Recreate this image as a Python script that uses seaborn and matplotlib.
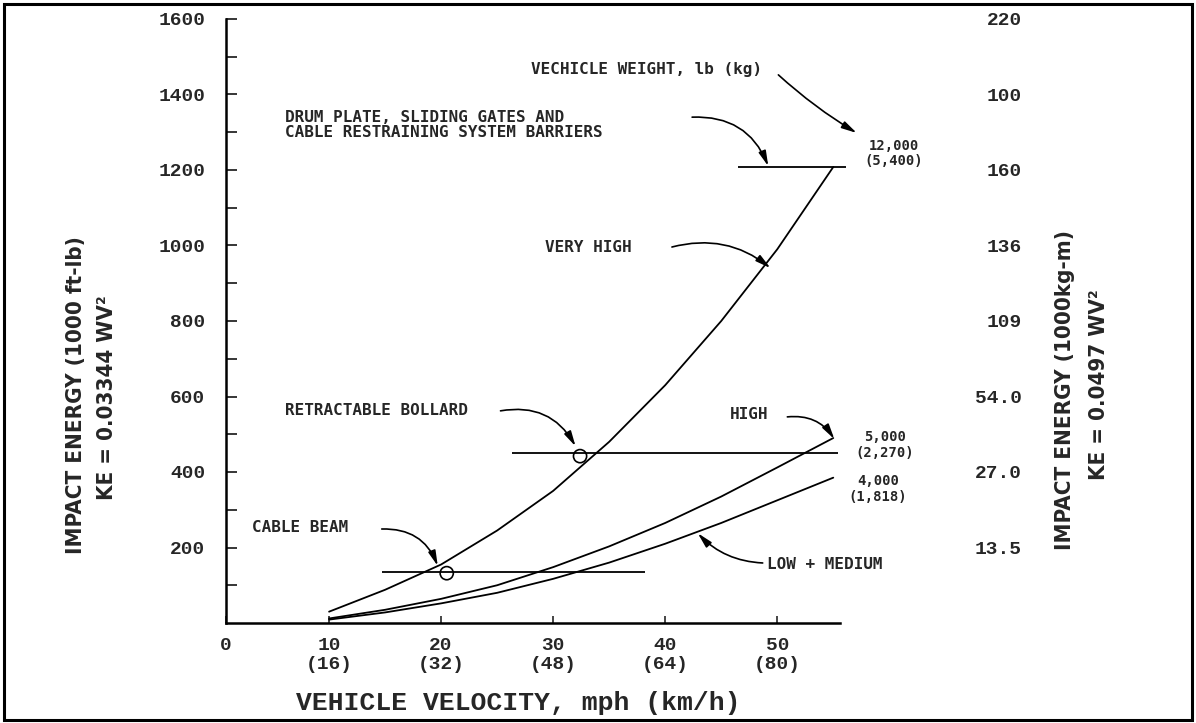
import matplotlib
matplotlib.use("Agg")
import matplotlib.pyplot as plt
from matplotlib import font_manager
from matplotlib.patches import Rectangle
import numpy as np
import pandas as pd
import seaborn as sns

# ---------------- data ----------------
speed_mph = [10, 15, 20, 25, 30, 35, 40, 45, 50, 55]
ke_12000 = [30, 88, 155, 245, 350, 480, 630, 800, 990, 1208]
ke_5000 = [12, 35, 64, 100, 148, 203, 265, 335, 412, 490]
ke_4000 = [9, 28, 52, 80, 117, 160, 210, 265, 325, 385]

weight_lb = ["12,000", "5,000", "4,000"]
weight_kg = ["(5,400)", "(2,270)", "(1,818)"]

# barrier energy levels (1000 ft-lb) and the speed span of each level line
barrier_names = ["drum", "bollard", "cable"]
barrier_ke = [1208, 450, 135]
barrier_v_start = [46.5, 26.3, 14.7]
barrier_v_end = [56.1, 55.4, 38.2]
# open circles marking barrier ratings
circle_v = [20.5, 32.4]
circle_ke = [132, 442]

left_ticks = [200, 400, 600, 800, 1000, 1200, 1400, 1600]
left_labels = ["200", "400", "600", "800", "1000", "1200", "1400", "1600"]
minor_ticks = [100, 300, 500, 700, 900, 1100, 1300, 1500]
right_labels = ["13.5", "27.0", "54.0", "109", "136", "160", "100", "220"]
x_ticks = [0.8, 10, 20, 30, 40, 50]
x_labels = ["0", "10\n(16)", "20\n(32)", "30\n(48)", "40\n(64)", "50\n(80)"]

# ---------------- fonts ----------------
names = {f.name for f in font_manager.fontManager.ttflist}
cond_files = [f for f in font_manager.fontManager.ttflist
              if f.name == "DejaVu Sans" and "ondensed" in f.fname]
MONO = "Liberation Mono"
ANN = "DejaVu Sans Mono"
if "Liberation Sans Narrow" in names:
    NARROW_KW = dict(family="Liberation Sans Narrow", fontsize=17)
elif cond_files:
    NARROW_KW = dict(family="DejaVu Sans", fontstretch="condensed", fontsize=16)
else:
    NARROW_KW = dict(family="Liberation Sans", fontsize=16)

sns.set_style("white")
plt.rcParams["font.family"] = [MONO, "DejaVu Sans"]

df = pd.DataFrame({
    "speed": speed_mph * 3,
    "ke": ke_12000 + ke_5000 + ke_4000,
    "weight": [weight_lb[0]] * len(speed_mph) + [weight_lb[1]] * len(speed_mph)
              + [weight_lb[2]] * len(speed_mph),
})

W, H = 1196, 723
fig = plt.figure(figsize=(W / 100, H / 100), dpi=100)
fig.patch.set_facecolor("white")
ax = fig.add_axes([226 / W, 100 / H, (840 - 226) / W, (623 - 19) / H])

sns.lineplot(data=df, x="speed", y="ke", units="weight", estimator=None,
             color="black", lw=1.3, ax=ax, legend=False)

ax.set_xlim(0.8, 55.6)
ax.set_ylim(0, 1600)

# barrier level lines and circles
ax.hlines(barrier_ke, barrier_v_start, barrier_v_end, color="black", lw=1.3,
          clip_on=False)
ax.scatter(circle_v, circle_ke, s=90, facecolors="none", edgecolors="black",
           linewidths=1.2, zorder=5)

# spines / ticks
for s in ["top", "right"]:
    ax.spines[s].set_visible(False)
for s in ["left", "bottom"]:
    ax.spines[s].set_linewidth(1.8)
    ax.spines[s].set_color("black")

ax.set_yticks(left_ticks)
ax.set_yticklabels(left_labels)
ax.set_yticks(minor_ticks, minor=True)
ax.tick_params(axis="y", which="both", direction="in", length=8, width=1.3,
               pad=15, labelsize=14, left=True)
ax.set_xticks(x_ticks)
ax.set_xticklabels(x_labels)
ax.tick_params(axis="x", which="both", direction="in", length=5, width=1.2,
               pad=10, labelsize=14, bottom=True)
for lbl in ax.get_xticklabels() + ax.get_yticklabels():
    lbl.set_fontweight("bold")
    lbl.set_family(MONO)
ax.set_xlabel("VEHICLE VELOCITY, mph (km/h)", fontsize=19, fontweight="bold",
              family=MONO, labelpad=10)
ax.xaxis.set_label_coords((518 - 226) / 614, -0.112)
ax.set_ylabel("")

# right-hand metric axis
ax2 = ax.twinx()
ax2.set_ylim(0, 1600)
ax2.set_yticks(left_ticks)
ax2.set_yticklabels(right_labels)
ax2.tick_params(axis="y", length=0, pad=131, labelsize=14)
for lbl in ax2.get_yticklabels():
    lbl.set_horizontalalignment("right")
    lbl.set_fontweight("bold")
    lbl.set_family(MONO)
for s in ax2.spines.values():
    s.set_visible(False)

# axis titles (two rotated lines each side)
ylab_kw = dict(rotation=90, ha="center", va="center", fontweight="bold", **NARROW_KW)
fig.text(76 / W, 1 - 395 / H, "IMPACT ENERGY (1000 ft-lb)", **ylab_kw)
fig.text(107 / W, 1 - 398 / H, "KE = 0.03344 WV²", **ylab_kw)
fig.text(1065 / W, 1 - 390 / H, "IMPACT ENERGY (1000kg-m)", **ylab_kw)
fig.text(1099 / W, 1 - 385 / H, "KE = 0.0497 WV²", **ylab_kw)

# annotations
ann_kw = dict(fontsize=11.5, fontweight="bold", family=ANN, va="center")
arrow_kw = dict(arrowstyle="-|>,head_length=0.9,head_width=0.22", color="black",
                lw=1.2, shrinkA=0, shrinkB=0)

ax.text(48.66, 1465, "VECHICLE WEIGHT, lb (kg)", ha="right", **ann_kw)
ax.annotate("", xy=(57.1, 1298), xytext=(50.1, 1452), annotation_clip=False,
            arrowprops=dict(connectionstyle="arc3,rad=0.05", **arrow_kw))

ax.text(6.07, 1319, "DRUM PLATE, SLIDING GATES AND\nCABLE RESTRAINING SYSTEM BARRIERS",
        ha="left", linespacing=1.0, **ann_kw)
ax.annotate("", xy=(49.2, 1210), xytext=(42.4, 1340), annotation_clip=False,
            arrowprops=dict(connectionstyle="arc3,rad=-0.35", **arrow_kw))

ax.text(29.3, 996, "VERY HIGH", ha="left", **ann_kw)
ax.annotate("", xy=(49.4, 940), xytext=(40.6, 996),
            arrowprops=dict(connectionstyle="arc3,rad=-0.25", **arrow_kw))

ax.text(6.07, 564, "RETRACTABLE BOLLARD", ha="left", **ann_kw)
ax.annotate("", xy=(32.0, 468), xytext=(25.3, 562),
            arrowprops=dict(connectionstyle="arc3,rad=-0.35", **arrow_kw))

ax.text(45.8, 551, "HIGH", ha="left", **ann_kw)
ax.annotate("", xy=(55.1, 487), xytext=(50.9, 546), annotation_clip=False,
            arrowprops=dict(connectionstyle="arc3,rad=-0.3", **arrow_kw))

ax.text(3.1, 252, "CABLE BEAM", ha="left", **ann_kw)
ax.annotate("", xy=(19.7, 151), xytext=(14.7, 249),
            arrowprops=dict(connectionstyle="arc3,rad=-0.35", **arrow_kw))

ax.text(49.1, 154, "LOW + MEDIUM", ha="left", **ann_kw)
ax.annotate("", xy=(42.9, 238), xytext=(48.7, 159), annotation_clip=False,
            arrowprops=dict(connectionstyle="arc3,rad=-0.2", **arrow_kw))

# weight labels at curve ends
wpos_v = [60.4, 59.6, 59.0]
wpos_ke = [1244, 472, 355]
for lb, kg, v, k in zip(weight_lb, weight_kg, wpos_v, wpos_ke):
    ax.text(v, k, lb + "\n" + kg, ha="center", va="center", fontsize=10,
            fontweight="bold", family=ANN, linespacing=1.15)

# frame around the whole figure
fig.patches.append(Rectangle((0.003, 0.004), 0.994, 0.99, transform=fig.transFigure,
                             fill=False, lw=2.2, ec="black"))

fig.savefig("out.png", dpi=100, facecolor="white")
